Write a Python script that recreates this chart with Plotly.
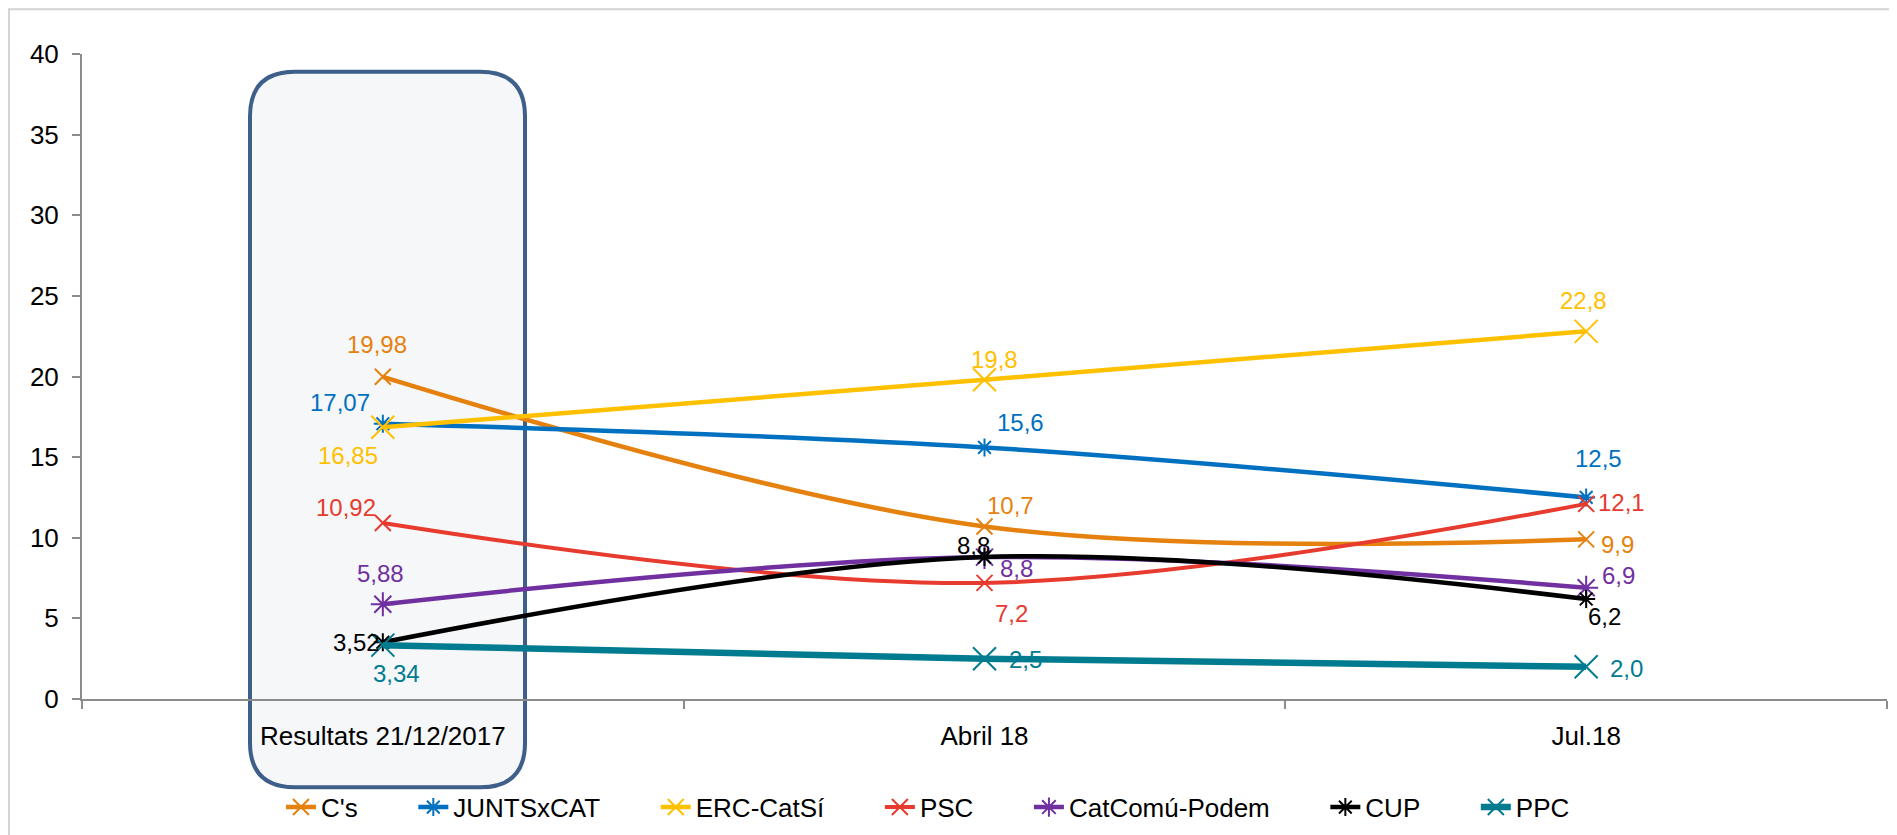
import plotly.graph_objects as go

categories = ["Resultats 21/12/2017", "Abril 18", "Jul.18"]
series_names = ["C's", "JUNTSxCAT", "ERC-CatSí", "PSC", "CatComú-Podem", "CUP", "PPC"]
cs_values = [19.98, 10.7, 9.9]
junts_values = [17.07, 15.6, 12.5]
erc_values = [16.85, 19.8, 22.8]
psc_values = [10.92, 7.2, 12.1]
comu_values = [5.88, 8.8, 6.9]
cup_values = [3.52, 8.8, 6.2]
ppc_values = [3.34, 2.5, 2.0]
y_ticks = [0, 5, 10, 15, 20, 25, 30, 35, 40]

all_values = [cs_values, junts_values, erc_values, psc_values, comu_values, cup_values, ppc_values]

# styling
colors = ["#E5820F", "#0070C0", "#FFC000", "#E63B2E", "#7030A0", "#000000", "#007B8F"]
symbols = ["x-thin", "asterisk", "x-thin", "x-thin", "asterisk", "asterisk", "x-thin"]
msizes = [16, 15, 23, 16, 20, 15, 23]
lwidths = [4.5, 4.5, 4.5, 4, 4.5, 4.5, 6.5]
# label offsets in pixels (dx right, dy down) per series per point
offsets = [
    [(-6, -32), (26, -21), (31, 5)],
    [(-43, -21), (36, -25), (12, -39)],
    [(-35, 28), (10, -20), (-3, -31)],
    [(-37, -15), (27, 31), (35, -1)],
    [(-2, -31), (32, 11), (32, -12)],
    [(-26, 0), (-11, -12), (18, 17)],
    [(14, 28), (41, 1), (40, 2)],
]

FONT = "Liberation Sans, Arial, sans-serif"
W, H = 1897, 835
OFF = 8  # page body offset of the figure on screen
# plot area on screen: x 82..1887, y 54..704
L_M = 82 - OFF
T_M = 54 - OFF
R_M = W - (1887 - OFF)
B_M = H - (704 - OFF)
PW = W - L_M - R_M
PH = H - T_M - B_M


def px(sx):
    return (sx - OFF - L_M) / PW


def py(sy):
    return (H - B_M - (sy - OFF)) / PH


def fmt(v, i):
    s = f"{v:.2f}" if i == 0 else f"{v:.1f}"
    return s.replace(".", ",")


PAD = "\u00a0" * 7

fig = go.Figure()
annotations = []
for k, (name, vals) in enumerate(zip(series_names, all_values)):
    legend_name = name + (PAD if k < len(series_names) - 1 else "")
    fig.add_trace(go.Scatter(
        x=categories, y=vals, name=legend_name, mode="lines+markers",
        line=dict(color=colors[k], width=lwidths[k], shape="spline", smoothing=1),
        marker=dict(symbol=symbols[k], size=msizes[k], color=colors[k],
                    line=dict(color=colors[k], width=2)),
        hoverinfo="skip",
    ))
    for i, v in enumerate(vals):
        dx, dy = offsets[k][i]
        annotations.append(dict(
            x=categories[i], y=v, xref="x", yref="y", text=fmt(v, i),
            showarrow=False, xshift=dx, yshift=-dy, xanchor="center", yanchor="middle",
            font=dict(family=FONT, size=24, color=colors[k]),
        ))

# rounded highlight box (screen coordinates)
bl, br, bt, bb, r = 250, 525, 72, 793, 45
path = (
    f"M {px(bl + r)},{py(bt)} L {px(br - r)},{py(bt)} Q {px(br)},{py(bt)} {px(br)},{py(bt + r)} "
    f"L {px(br)},{py(bb - r)} Q {px(br)},{py(bb)} {px(br - r)},{py(bb)} "
    f"L {px(bl + r)},{py(bb)} Q {px(bl)},{py(bb)} {px(bl)},{py(bb - r)} "
    f"L {px(bl)},{py(bt + r)} Q {px(bl)},{py(bt)} {px(bl + r)},{py(bt)} Z"
)
shapes = [
    dict(type="rect", xref="paper", yref="paper", x0=px(OFF + 1), x1=px(OFF + W - 1),
         y0=py(OFF + 1), y1=py(OFF + H - 1),
         line=dict(color="#D4D4D4", width=2), fillcolor="rgba(0,0,0,0)", layer="below"),
    dict(type="path", xref="paper", yref="paper", path=path,
         line=dict(color="#3E5F8A", width=4), fillcolor="#F5F7F9", layer="below"),
]

fig.update_layout(
    width=W, height=H,
    margin=dict(l=L_M, r=R_M, t=T_M, b=B_M),
    paper_bgcolor="white", plot_bgcolor="rgba(0,0,0,0)",
    font=dict(family=FONT, size=26, color="black"),
    showlegend=True,
    legend=dict(orientation="h", x=px(928), xanchor="center", y=py(813), yanchor="middle",
                font=dict(family=FONT, size=26, color="black"),
                bgcolor="rgba(0,0,0,0)", traceorder="normal"),
    shapes=shapes,
    annotations=annotations,
)
fig.update_xaxes(
    type="category", range=[-0.5, 2.5], showgrid=False, zeroline=False,
    showline=True, linecolor="#8C8C8C", linewidth=2,
    ticks="outside", tickson="boundaries", ticklen=8, tickcolor="#8C8C8C", tickwidth=1.5,
    tickfont=dict(family=FONT, size=26, color="black"), ticklabelstandoff=13,
    automargin=False,
)
fig.update_yaxes(
    range=[0, 40], tickvals=y_ticks, showgrid=False, zeroline=False,
    showline=True, linecolor="#8C8C8C", linewidth=2,
    ticks="outside", ticklen=8, tickcolor="#8C8C8C", tickwidth=1.5,
    tickfont=dict(family=FONT, size=26, color="black"), ticklabelstandoff=8,
    automargin=False,
)

fig.write_html("out.html")
